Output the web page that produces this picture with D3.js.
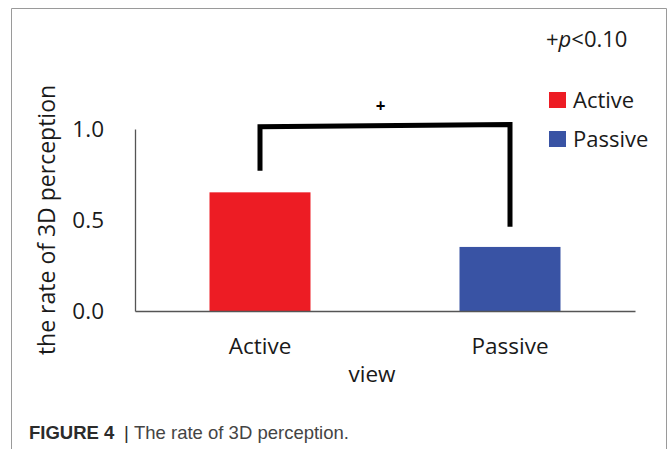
<!DOCTYPE html>
<html>
<head>
<meta charset="utf-8">
<script src="https://cdn.jsdelivr.net/npm/d3@7"></script>
<style>
  html, body { margin: 0; padding: 0; background: #fff; }
  svg { display: block; }
</style>
</head>
<body>
<svg id="chart" width="668" height="449"></svg>
<script>
// ---- data ----
const categories = ["Active", "Passive"];
const values = [0.652, 0.352];
const colors = ["#ED1C24", "#3953A4"];
const yTicks = [0.0, 0.5, 1.0];
// significance bracket: [value at left foot, left top, right top, right foot]
const bracketValues = [0.771, 1.012, 1.025, 0.463];
const bracketLabel = "+";
const yTitle = "the rate of 3D perception";
const xTitle = "view";
const captionBold = "FIGURE 4";
const captionText = "The rate of 3D perception.";

const svg = d3.select("#chart");
const font = "'Open Sans', 'Noto Sans', sans-serif";

// outer frame
svg.append("path")
  .attr("d", "M11.5,449 V8.5 H666.5 V449")
  .attr("fill", "none").attr("stroke", "#9a9a9a").attr("stroke-width", 1);

const x = d3.scaleBand().domain(categories).range([135, 635])
  .paddingInner(0.596).paddingOuter(0.298);
const y = d3.scaleLinear().domain([0, 1]).range([311, 129]);

// bars
svg.append("g").selectAll("rect").data(categories).join("rect")
  .attr("x", d => x(d))
  .attr("width", x.bandwidth())
  .attr("y", (d, i) => y(values[i]))
  .attr("height", (d, i) => y(0) - y(values[i]))
  .attr("fill", (d, i) => colors[i]);

// y axis
const yAxis = svg.append("g").attr("transform", "translate(135,0)")
  .call(d3.axisLeft(y).tickValues(yTicks).tickFormat(d3.format(".1f"))
    .tickSize(0).tickSizeOuter(0).tickPadding(31));
yAxis.select(".domain").attr("stroke", "#555").attr("stroke-width", 1.3);
yAxis.selectAll("text").attr("font-family", font).attr("font-size", 22.5).attr("fill", "#1a1a1a");

// x axis
const xAxis = svg.append("g").attr("transform", "translate(0,311)")
  .call(d3.axisBottom(x).tickSize(0).tickSizeOuter(0).tickPadding(27));
xAxis.select(".domain").attr("stroke", "#555").attr("stroke-width", 1.3);
xAxis.selectAll("text").attr("font-family", font).attr("font-size", 22.5).attr("fill", "#1a1a1a");

// axis titles
svg.append("text")
  .attr("transform", "translate(55,220) rotate(-90)")
  .attr("text-anchor", "middle")
  .attr("font-family", font).attr("font-size", 23).attr("fill", "#1a1a1a")
  .text(yTitle);
svg.append("text")
  .attr("x", 372).attr("y", 382)
  .attr("text-anchor", "middle")
  .attr("font-family", font).attr("font-size", 22.5).attr("fill", "#1a1a1a")
  .text(xTitle);

// significance bracket
const cx = categories.map(c => x(c) + x.bandwidth() / 2);
const bp = d3.path();
bp.moveTo(cx[0], y(bracketValues[0]));
bp.lineTo(cx[0], y(bracketValues[1]));
bp.lineTo(cx[1], y(bracketValues[2]));
bp.lineTo(cx[1], y(bracketValues[3]));
svg.append("path").attr("d", bp.toString())
  .attr("fill", "none").attr("stroke", "#000").attr("stroke-width", 5)
  .attr("stroke-linejoin", "miter").attr("stroke-linecap", "butt");
svg.append("text")
  .attr("x", 380.5).attr("y", 112)
  .attr("text-anchor", "middle")
  .attr("font-family", font).attr("font-size", 17).attr("font-weight", "bold")
  .text(bracketLabel);

// p-value note
const pt = svg.append("text").attr("x", 546).attr("y", 47)
  .attr("font-family", font).attr("font-size", 22).attr("fill", "#1a1a1a");
pt.append("tspan").text("+");
pt.append("tspan").attr("font-style", "italic").text("p");
pt.append("tspan").text("<0.10");

// legend
const lg = svg.append("g");
categories.forEach((c, i) => {
  const ly = 92 + i * 39;
  lg.append("rect").attr("x", 549).attr("y", ly).attr("width", 17).attr("height", 16)
    .attr("fill", colors[i]);
  lg.append("text").attr("x", 573).attr("y", ly + 15.5)
    .attr("font-family", font).attr("font-size", 22).attr("fill", "#1a1a1a")
    .text(c);
});

// caption
const cap = svg.append("text").attr("x", 29).attr("y", 439)
  .attr("font-family", "'Liberation Sans', Arial, sans-serif").attr("font-size", 18.5);
cap.append("tspan").attr("font-weight", "bold").attr("fill", "#2b2b2b").text(captionBold);
cap.append("tspan").attr("x", 124).attr("fill", "#2b2b2b").text("|");
cap.append("tspan").attr("x", 134).attr("fill", "#444").text(captionText);
</script>
</body>
</html>
